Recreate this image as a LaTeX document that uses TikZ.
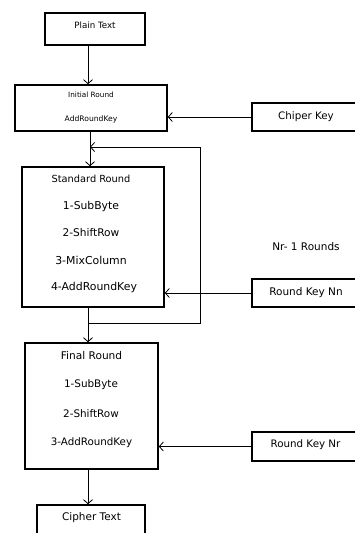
\documentclass[tikz,border=0pt]{standalone}
\usepackage{fontspec}
\setmainfont{DejaVu Sans}
\usetikzlibrary{arrows.meta,calc}
\begin{document}
\begin{tikzpicture}[x=1pt,y=-1pt,
  box/.style={draw,line width=1.6pt,rectangle,inner sep=0pt},
  lbl/.style={inner sep=0pt,anchor=center},
  conn/.style={line width=0.8pt},
  arr/.style={conn,-{Straight Barb[length=4pt,width=9pt,line width=0.8pt]}}]
\useasboundingbox (0,0) rectangle (355,533);
\clip (0,0) rectangle (355,533);
% boxes
\node[box,minimum width=100pt,minimum height=32pt] (plain) at (95,29) {};
\node[box,minimum width=152pt,minimum height=46pt] (init) at (91,108) {};
\node[box,minimum width=120pt,minimum height=28pt] (chiper) at (312,117) {};
\node[box,minimum width=142pt,minimum height=140pt] (std) at (93,237) {};
\node[box,minimum width=120pt,minimum height=28pt] (nn) at (312,293) {};
\node[box,minimum width=133pt,minimum height=126pt] (final) at (91.5,406) {};
\node[box,minimum width=120pt,minimum height=29pt] (nr) at (312,446.5) {};
\node[box,minimum width=108pt,minimum height=40pt] (cipher) at (91,525) {};
% texts
\node[lbl,font=\fontsize{8.7}{10}\selectfont] (tplain) at (95,25) {Plain Text};
\node[lbl,font=\fontsize{7.3}{9}\selectfont] (tinit1) at (91,95) {Initial Round};
\node[lbl,font=\fontsize{7.6}{9}\selectfont] (tinit2) at (91,119) {AddRoundKey};
\node[lbl,font=\fontsize{10.3}{12}\selectfont] (tchiper) at (306,117) {Chiper Key};
\node[lbl,font=\fontsize{9.8}{12}\selectfont] (tstd0) at (91,179) {Standard Round};
\node[lbl,font=\fontsize{10.8}{12}\selectfont] (tstd1) at (91,207) {1-SubByte};
\node[lbl,font=\fontsize{10.6}{12}\selectfont] (tstd2) at (91,233) {2-ShiftRow};
\node[lbl,font=\fontsize{10.9}{12}\selectfont] (tstd3) at (91,260) {3-MixColumn};
\node[lbl,font=\fontsize{10.9}{12}\selectfont] (tstd4) at (94,287) {4-AddRoundKey};
\node[lbl,font=\fontsize{10.5}{12}\selectfont] (tnr1) at (306,247) {Nr- 1 Rounds};
\node[lbl,font=\fontsize{10.5}{12}\selectfont] (tnn) at (306,293) {Round Key Nn};
\node[lbl,font=\fontsize{10.6}{12}\selectfont] (tfin0) at (91.5,356) {Final Round};
\node[lbl,font=\fontsize{10.4}{12}\selectfont] (tfin1) at (91,385) {1-SubByte};
\node[lbl,font=\fontsize{10.4}{12}\selectfont] (tfin2) at (91,414) {2-ShiftRow};
\node[lbl,font=\fontsize{10.3}{12}\selectfont] (tfin3) at (91.5,443) {3-AddRoundKey};
\node[lbl,font=\fontsize{10.3}{12}\selectfont] (tnr) at (305.5,445) {Round Key Nr};
\node[lbl,font=\fontsize{10.5}{12}\selectfont] (tcipher) at (91.5,518) {Cipher Text};
% connector helper coordinates
\coordinate (xa) at (88,0);
\coordinate (xb) at (90,0);
\coordinate (j) at (88,323);
\coordinate (r1) at (200,323);
\coordinate (r2) at (200,147);
\coordinate (r3) at (90,147);
% connectors
\draw[arr] (plain.south -| xa) -- (init.north -| xa);
\draw[arr] (init.south -| xb) -- (std.north -| xb);
\draw[conn] (std.south -| xa) -- (j) -- (r1) -- (r2);
\draw[arr] (r2) -- (r3);
\draw[arr] (j) -- (final.north -| xa);
\draw[arr] (final.south -| xa) -- (cipher.north -| xa);
\draw[arr] (chiper.west) -- (init.east |- chiper.west);
\draw[arr] (nn.west) -- (std.east |- nn.west);
\draw[arr] (nr.west) -- (final.east |- nr.west);
\end{tikzpicture}
\end{document}
